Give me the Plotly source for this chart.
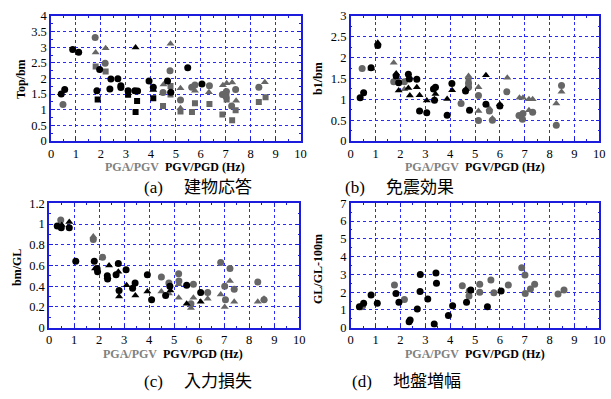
import plotly.graph_objects as go

# ---------------- data ----------------
# Panel (a) Top/bm
a_bc_x = [0.41, 0.55, 0.87, 1.11, 1.84, 1.95, 2.36, 2.40, 2.68, 2.80, 2.80, 3.09, 3.36, 3.47, 3.93, 4.10, 4.67, 4.80, 5.48, 6.05]
a_bc_y = [1.50, 1.65, 2.93, 2.84, 1.61, 2.29, 1.66, 1.98, 1.99, 1.77, 1.71, 1.61, 1.61, 1.60, 1.92, 1.72, 1.92, 1.56, 2.34, 1.82]
a_bt_x = [3.39, 4.10]
a_bt_y = [2.99, 1.63]
a_bs_x = [1.87, 3.09, 3.39, 3.45, 4.10]
a_bs_y = [1.33, 1.48, 0.93, 1.28, 1.37]
a_gc_x = [0.48, 1.77, 2.17, 4.49, 4.77, 5.19, 5.64, 5.77, 6.35, 6.87, 7.00, 7.24, 7.40, 8.33, 7.03]
a_gc_y = [1.17, 3.31, 2.49, 1.55, 2.25, 1.31, 1.72, 1.79, 1.77, 1.49, 1.44, 1.12, 1.65, 1.72, 1.58]
a_gt_x = [1.79, 2.19, 4.51, 4.79, 5.19, 5.19, 5.77, 6.33, 6.89, 7.04, 7.26, 7.42, 8.57]
a_gt_y = [2.83, 2.97, 1.81, 3.11, 1.69, 1.05, 1.61, 1.56, 1.78, 1.85, 1.87, 1.29, 1.88]
a_gs_x = [1.79, 2.19, 4.49, 4.79, 4.79, 5.19, 5.65, 5.77, 6.35, 6.87, 7.03, 7.04, 7.26, 7.40, 8.33, 8.60]
a_gs_y = [2.38, 2.22, 1.12, 1.76, 1.49, 0.94, 0.93, 1.21, 1.18, 0.85, 1.42, 1.33, 0.66, 0.98, 1.25, 1.40]

# Panel (b) b1/bm
b_bc_x = [0.38, 0.52, 0.82, 1.09, 1.83, 1.93, 2.32, 2.36, 2.66, 2.77, 3.06, 3.33, 3.41, 3.37, 3.88, 4.07, 4.62, 4.78, 5.44, 6.00]
b_bc_y = [1.04, 1.16, 1.76, 2.29, 1.56, 1.40, 1.60, 1.49, 1.48, 0.72, 0.68, 1.25, 1.29, 0.98, 0.62, 1.38, 1.20, 0.74, 0.88, 0.84]
b_bt_x = [1.09, 0.83, 1.83, 1.93, 2.32, 2.38, 2.66, 2.77, 3.06, 3.37, 3.41, 3.88, 4.08, 4.63, 5.44, 6.00]
b_bt_y = [2.36, 1.74, 1.62, 1.21, 1.27, 1.09, 1.29, 1.10, 0.97, 1.00, 1.13, 1.01, 1.22, 1.24, 1.58, 0.88]
b_gc_x = [0.46, 1.73, 2.16, 4.44, 4.74, 4.74, 5.14, 5.14, 5.58, 5.70, 6.28, 6.77, 6.91, 6.93, 7.32, 8.27, 8.48]
b_gc_y = [1.74, 1.42, 1.42, 0.90, 1.38, 1.29, 1.09, 0.49, 0.72, 0.50, 1.18, 0.61, 0.52, 0.66, 0.69, 0.38, 1.33]
b_gt_x = [1.73, 2.16, 4.74, 5.14, 5.14, 5.58, 5.70, 6.30, 6.79, 6.93, 7.17, 7.17, 7.32, 8.27, 8.48]
b_gt_y = [1.88, 1.24, 1.56, 1.29, 0.72, 0.78, 0.54, 1.52, 1.04, 1.04, 1.00, 0.74, 1.00, 0.90, 1.18]
b_gs_x = [4.74]
b_gs_y = [1.46]

# Panel (c) bm/GL
c_bc_x = [0.33, 0.49, 0.81, 1.07, 1.81, 1.92, 1.94, 2.33, 2.34, 2.68, 2.77, 2.80, 3.08, 3.34, 3.44, 3.93, 4.10, 4.66, 4.83, 5.50, 6.06]
c_bc_y = [0.98, 0.965, 0.965, 0.64, 0.64, 0.57, 0.54, 0.50, 0.47, 0.51, 0.62, 0.36, 0.56, 0.38, 0.43, 0.51, 0.27, 0.31, 0.40, 0.41, 0.34]
c_bt_x = [0.51, 0.81, 1.84, 2.34, 2.40, 2.77, 2.80, 3.10, 3.45, 3.93, 4.85, 5.50, 6.06]
c_bt_y = [0.99, 1.02, 0.57, 0.49, 0.60, 0.54, 0.30, 0.41, 0.31, 0.35, 0.36, 0.23, 0.25]
c_gc_x = [0.47, 1.77, 2.14, 4.49, 4.79, 5.18, 5.19, 5.67, 5.77, 6.34, 6.86, 7.02, 7.05, 7.23, 7.40, 8.34, 8.59]
c_gc_y = [1.04, 0.85, 0.68, 0.49, 0.43, 0.52, 0.45, 0.23, 0.42, 0.34, 0.63, 0.40, 0.27, 0.57, 0.37, 0.44, 0.27]
c_gt_x = [1.77, 4.49, 4.79, 5.18, 5.18, 5.67, 5.77, 6.34, 6.86, 7.02, 7.23, 7.40, 8.34, 8.59]
c_gt_y = [0.88, 0.35, 0.33, 0.42, 0.29, 0.19, 0.29, 0.28, 0.32, 0.20, 0.45, 0.25, 0.25, 0.28]

# Panel (d) GL/GL-100m
d_bc_x = [0.35, 0.52, 0.82, 1.07, 1.82, 1.94, 2.35, 2.39, 2.68, 2.79, 2.80, 3.10, 3.36, 3.43, 3.45, 3.93, 4.10, 4.66, 4.83, 5.50, 6.05]
d_bc_y = [1.18, 1.37, 1.84, 1.37, 1.93, 1.43, 0.34, 0.43, 1.05, 2.03, 3.00, 1.61, 0.21, 3.08, 2.50, 0.68, 1.24, 1.43, 2.12, 1.18, 2.06]
d_gc_x = [0.42, 0.48, 1.76, 2.16, 4.49, 4.76, 4.77, 5.19, 5.19, 5.64, 5.76, 6.34, 6.88, 7.01, 7.02, 7.23, 7.40, 8.34, 8.58]
d_gc_y = [1.18, 1.24, 2.40, 1.59, 2.36, 1.78, 2.06, 2.44, 1.99, 2.68, 1.97, 2.40, 3.38, 2.96, 1.93, 2.18, 2.44, 1.89, 2.12]

y_titles = ["Top/bm", "b1/bm", "bm/GL", "GL/GL-100m"]
captions = [("(a)", "建物応答"), ("(b)", "免震効果"), ("(c)", "入力損失"), ("(d)", "地盤増幅")]
x_title_gray = "PGA/PGV"
x_title_black = "PGV/PGD (Hz)"
y_ranges = [[0, 4], [0, 3], [0, 1.2], [0, 7]]
y_dticks = [0.5, 0.5, 0.2, 1]

# ---------------- figure ----------------
W, H = 611, 399
BLACK = "#000000"
GRAY = "#666666"
SERIF = "Liberation Serif, Times New Roman, serif"
CAPFONT = "Liberation Serif, Noto Sans CJK JP, serif"
NB = "\u00a0"

fig = go.Figure()

def add(x, y, ax, symbol, color, size):
    fig.add_trace(go.Scatter(
        x=x, y=y, mode="markers", xaxis="x" + ax, yaxis="y" + ax,
        marker=dict(symbol=symbol, color=color, size=size, line=dict(width=0)),
        showlegend=False, hoverinfo="skip"))

# gray first, black on top
add(a_gs_x, a_gs_y, "", "square", GRAY, 6)
add(a_gt_x, a_gt_y, "", "triangle-up", GRAY, 7)
add(a_gc_x, a_gc_y, "", "circle", GRAY, 7)
add(a_bs_x, a_bs_y, "", "square", BLACK, 6)
add(a_bt_x, a_bt_y, "", "triangle-up", BLACK, 7)
add(a_bc_x, a_bc_y, "", "circle", BLACK, 7)

add(b_gs_x, b_gs_y, "2", "square", GRAY, 6)
add(b_gt_x, b_gt_y, "2", "triangle-up", GRAY, 7)
add(b_gc_x, b_gc_y, "2", "circle", GRAY, 7)
add(b_bt_x, b_bt_y, "2", "triangle-up", BLACK, 7)
add(b_bc_x, b_bc_y, "2", "circle", BLACK, 7)

add(c_gt_x, c_gt_y, "3", "triangle-up", GRAY, 7)
add(c_gc_x, c_gc_y, "3", "circle", GRAY, 7)
add(c_bt_x, c_bt_y, "3", "triangle-up", BLACK, 7)
add(c_bc_x, c_bc_y, "3", "circle", BLACK, 7)

add(d_gc_x, d_gc_y, "4", "circle", GRAY, 7)
add(d_bc_x, d_bc_y, "4", "circle", BLACK, 7)

# panel pixel boxes (left, right, top, bottom)
boxes = [(51, 300.5, 16, 141), (350.7, 599.3, 16, 141),
         (49, 299.3, 203.3, 327.7), (350.7, 599.3, 203.3, 327.7)]

def px(v):
    return v / W

def py(v):
    return 1 - v / H

layout = dict(width=W, height=H, margin=dict(l=0, r=0, t=0, b=0, autoexpand=False),
              paper_bgcolor="white", plot_bgcolor="white", showlegend=False)

common = dict(showgrid=True, gridcolor="#2a2aff", griddash="dot", gridwidth=1,
              showline=True, linecolor="#1c1cdc", linewidth=1.5, mirror="ticks",
              ticks="inside", ticklen=4, tickcolor="#1c1cdc", tickwidth=1,
              zeroline=False, fixedrange=True, automargin=False,
              tickfont=dict(family=SERIF, size=12.5, color="black"))

for i, (l, r, t, b) in enumerate(boxes):
    sfx = "" if i == 0 else str(i + 1)
    layout["xaxis" + sfx] = dict(common, domain=[px(l), px(r)], range=[0, 10], dtick=1, tick0=0,
                                 anchor="y" + sfx,
                                 minor=dict(ticks="inside", ticklen=2, dtick=0.5, tickcolor="#1c1cdc", showgrid=False))
    layout["yaxis" + sfx] = dict(common, domain=[py(b), py(t)], range=y_ranges[i], dtick=y_dticks[i], tick0=0,
                                 anchor="x" + sfx,
                                 minor=dict(ticks="inside", ticklen=2, dtick=y_dticks[i] / 2, tickcolor="#1c1cdc", showgrid=False))

fig.update_layout(**layout)

ann = []
# x-axis titles (gray part + black part in one text)
xt_pos = [(104, 167), (404, 167), (102, 354), (404, 354)]
for gx, yy in xt_pos:
    ann.append(dict(x=px(gx), y=py(yy), xref="paper", yref="paper", xanchor="left", yanchor="middle",
                    text="<b><span style='color:#808080'>" + x_title_gray + "</span>" + NB + NB
                         + x_title_black + "</b>",
                    showarrow=False, borderpad=0,
                    font=dict(family=SERIF, size=12, color="black")))
# y-axis titles
yt_pos = [(21, 79), (318, 79), (17, 268), (318, 269)]
for (xx, yy), txt in zip(yt_pos, y_titles):
    ann.append(dict(x=px(xx), y=py(yy), xref="paper", yref="paper", xanchor="center", yanchor="middle",
                    text="<b>" + txt + "</b>", textangle=-90, showarrow=False,
                    font=dict(family=SERIF, size=12, color="black")))
# captions
cap_pos = [(142, 187), (343, 187), (142, 381), (350, 381)]
for (lx, yy), (lab, cj) in zip(cap_pos, captions):
    ann.append(dict(x=px(lx), y=py(yy), xref="paper", yref="paper", xanchor="left", yanchor="middle",
                    text=lab + NB * 5 + cj, showarrow=False,
                    font=dict(family=CAPFONT, size=17, color="black")))

fig.update_layout(annotations=ann)
fig.write_html("out.html", config={"displayModeBar": False},
               post_script="document.body.style.margin='0';document.body.style.overflow='hidden';")
